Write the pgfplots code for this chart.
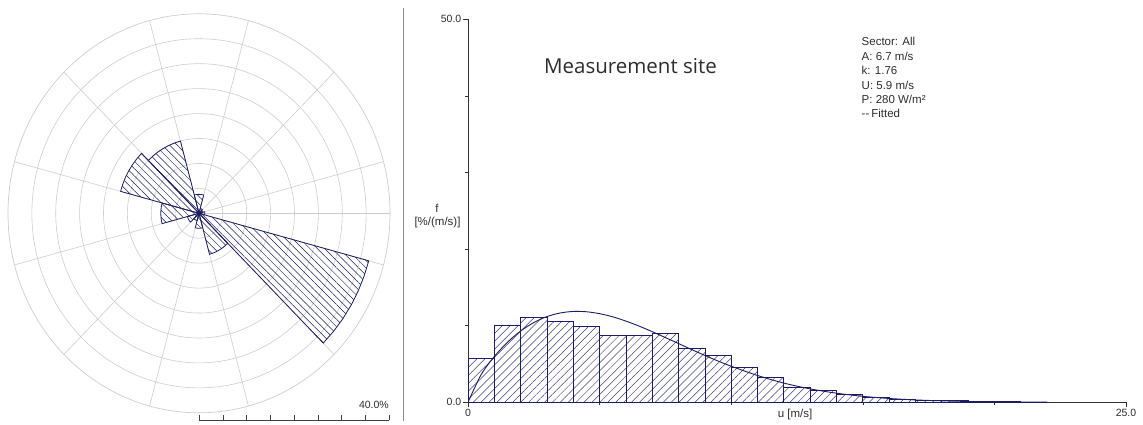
\documentclass[border=0pt]{standalone}
\usepackage{fontspec}
\setmainfont{Liberation Sans}
\newfontfamily\titlefont{Open Sans}
\usepackage{pgfplots}
\pgfplotsset{compat=1.18}
\usepgfplotslibrary{polar}
\usetikzlibrary{patterns.meta}
\definecolor{navy}{RGB}{28,28,96}
\definecolor{gridgray}{RGB}{205,205,205}
\definecolor{txt}{RGB}{45,45,45}
\tikzset{sector/.style={draw=navy, line width=0.8pt, mark=none,
    pattern={Lines[angle=-45,distance=5.2pt,line width=0.5pt]}, pattern color=navy}}
\begin{document}
\begin{tikzpicture}[x=1pt,y=1pt]
\path[use as bounding box] (0,0) rectangle (1143,424);
% ---------------- wind rose ----------------
\begin{polaraxis}[
  at={(199pt,210.7pt)}, anchor=origin,
  scale only axis, width=382pt, height=399pt,
  ymin=0, ymax=40,
  xtick={15,45,...,345}, ytick={5,10,...,35},
  xticklabel=\empty, yticklabel=\empty,
  grid=major, major grid style={draw=gridgray, line width=0.6pt},
  axis line style={draw=gridgray, line width=0.7pt},
  major tick length=0pt, no markers,
]
\addplot[sector] coordinates {(0,0) (105,3.8) (100,3.8) (95,3.8) (90,3.8) (85,3.8) (80,3.8) (75,3.8) (0,0)};
\addplot[sector] coordinates {(0,0) (75,1.0) (70,1.0) (65,1.0) (60,1.0) (55,1.0) (50,1.0) (45,1.0) (0,0)};
\addplot[sector] coordinates {(0,0) (45,0.8) (40,0.8) (35,0.8) (30,0.8) (25,0.8) (20,0.8) (15,0.8) (0,0)};
\addplot[sector] coordinates {(0,0) (15,1.2) (10,1.2) (5,1.2) (0,1.2) (-5,1.2) (-10,1.2) (-15,1.2) (0,0)};
\addplot[sector] coordinates {(0,0) (-15,36.8) (-20,36.8) (-25,36.8) (-30,36.8) (-35,36.8) (-40,36.8) (-45,36.8) (0,0)};
\addplot[sector] coordinates {(0,0) (-45,8.5) (-50,8.5) (-55,8.5) (-60,8.5) (-65,8.5) (-70,8.5) (-75,8.5) (0,0)};
\addplot[sector] coordinates {(0,0) (-75,3.0) (-80,3.0) (-85,3.0) (-90,3.0) (-95,3.0) (-100,3.0) (-105,3.0) (0,0)};
\addplot[sector] coordinates {(0,0) (-105,1.5) (-110,1.5) (-115,1.5) (-120,1.5) (-125,1.5) (-130,1.5) (-135,1.5) (0,0)};
\addplot[sector] coordinates {(0,0) (-135,2.5) (-140,2.5) (-145,2.5) (-150,2.5) (-155,2.5) (-160,2.5) (-165,2.5) (0,0)};
\addplot[sector] coordinates {(0,0) (-165,8.0) (-170,8.0) (-175,8.0) (-180,8.0) (-185,8.0) (-190,8.0) (-195,8.0) (0,0)};
\addplot[sector] coordinates {(0,0) (165,17.0) (160,17.0) (155,17.0) (150,17.0) (145,17.0) (140,17.0) (135,17.0) (0,0)};
\addplot[sector] coordinates {(0,0) (135,15.0) (130,15.0) (125,15.0) (120,15.0) (115,15.0) (110,15.0) (105,15.0) (0,0)};
\end{polaraxis}
% scale bar
\draw[black!75, line width=0.7pt] (199.3,4) -- (389.3,4);
\foreach \i in {0,...,8} { \draw[black!75, line width=0.7pt] (199.3+23.75*\i,4) -- (199.3+23.75*\i,8.7); }
\node[anchor=base east, inner sep=0pt, font=\fontsize{10.5}{12}\selectfont, text=txt] at (389,16) {40.0\%};
% separator
\draw[black!45, line width=1.4pt] (403.5,3) -- (403.5,416);
% ---------------- histogram ----------------
\begin{axis}[
  at={(468pt,21.7pt)}, anchor=origin,
  scale only axis, width=658pt, height=383pt,
  xmin=0, xmax=25, ymin=0, ymax=50,
  axis lines*=left,
  axis line style={black!80, line width=0.7pt},
  xtick={0,25}, xticklabels={0,25.0},
  minor xtick={5,10,15,20},
  ytick={0,50}, yticklabels={0.0,50.0},
  minor ytick={10,20,30,40},
  tick align=outside, major tick length=5pt, minor tick length=3pt,
  tick style={black!80, line width=0.6pt},
  ticklabel style={font=\fontsize{10.5}{12}\selectfont, text=txt, inner sep=1.5pt},
  xlabel={u [m/s]},
  xlabel style={at={(axis description cs:0.497,0)}, anchor=north, yshift=-6.5pt, inner sep=0pt, font=\fontsize{11.5}{13}\selectfont, text=txt},
]
\addplot[ybar interval, draw=navy, line width=0.7pt,
  pattern={Lines[angle=45,distance=5.6pt,line width=0.5pt]}, pattern color=navy!85]
  coordinates {(0,5.7) (1,10.1) (2,11.05) (3,10.6) (4,9.9) (5,8.7) (6,8.7) (7,9.0)
  (8,7.1) (9,6.1) (10,4.5) (11,3.2) (12,2.0) (13,1.5) (14,1.0) (15,0.65) (16,0.45)
  (17,0.3) (18,0.2) (19,0.12) (20,0.06) (21,0.03) (22,0.03)};
\addplot[navy, line width=0.9pt, smooth, mark=none]
  coordinates {(0,0) (0.5,3.62) (1,5.98) (1.5,7.84) (2,9.31) (2.5,10.41) (3,11.19)
  (3.5,11.66) (4,11.86) (4.5,11.82) (5,11.57) (5.5,11.16) (6,10.60) (6.5,9.95)
  (7,9.22) (7.5,8.45) (8,7.67) (8.5,6.88) (9,6.12) (9.5,5.39) (10,4.71) (11,3.50)
  (12,2.51) (13,1.75) (14,1.19) (15,0.78) (16,0.50) (17,0.31) (18,0.19) (19,0.11)
  (20,0.06) (21,0.03) (22,0.02)};
\end{axis}
% y label
\node[anchor=base, inner sep=0pt, font=\fontsize{11.5}{13}\selectfont, text=txt] at (437,211.5) {f};
\node[anchor=base, inner sep=0pt, font=\fontsize{11.5}{13}\selectfont, text=txt] at (437.5,199) {[\%/(m/s)]};
% title
\node[anchor=base, inner sep=0pt, font=\titlefont\fontsize{20.5}{24}\selectfont, text=txt] at (630.5,350) {Measurement site};
% info block
\begin{scope}[every node/.style={anchor=base west, inner sep=0pt, font=\fontsize{11.5}{13}\selectfont, text=txt}]
\node at (861.5,378) {Sector: All};
\node at (861.5,363.5) {A: 6.7 m/s};
\node at (861.5,349.2) {k: 1.76};
\node at (861.5,334.8) {U: 5.9 m/s};
\node at (861.5,320.5) {P: 280 W/m²};
\node at (861.5,306) {-{}-\,Fitted};
\end{scope}
\end{tikzpicture}
\end{document}
